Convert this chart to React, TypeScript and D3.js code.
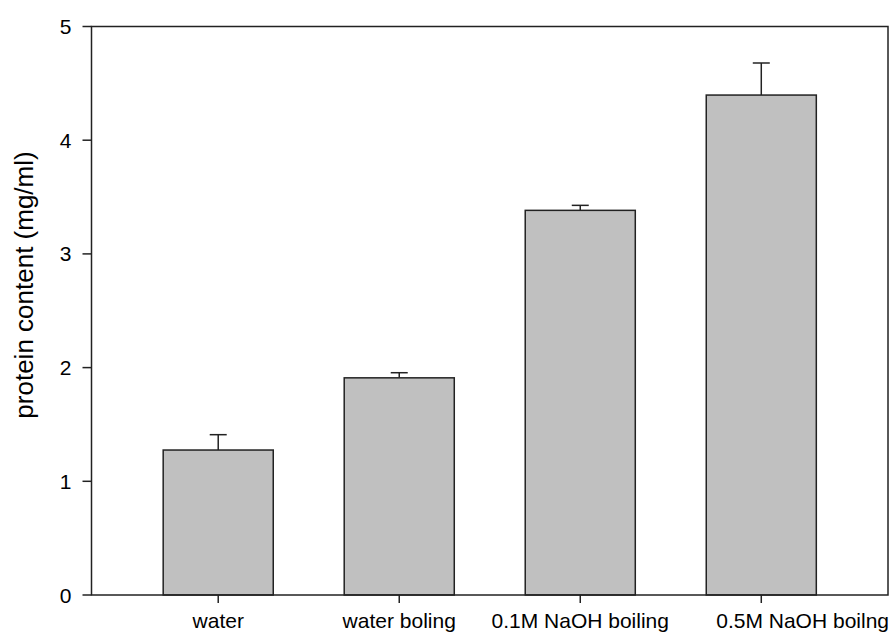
import React from "react";
import * as d3 from "d3";

const categories = ["water", "water boling", "0.1M NaOH boiling", "0.5M NaOH boilng"];
const values = [1.275, 1.91, 3.383, 4.397];
const errors = [0.135, 0.045, 0.044, 0.282];
const yTicks = [0, 1, 2, 3, 4, 5];

const W = 893;
const H = 634;
const margin = { left: 91.5, right: 5, top: 26.5, bottom: 39 };

export default function App() {
  const x = d3
    .scalePoint<string>()
    .domain(categories)
    .range([margin.left, W - margin.right])
    .padding(0.7);
  const y = d3.scaleLinear().domain([0, 5]).range([H - margin.bottom, margin.top]);
  const barW = x.step() * 0.608;
  const capW = 17;
  const font = "Arial, 'Liberation Sans', sans-serif";
  const x0 = margin.left;
  const x1 = W - margin.right;
  const yb = y(0);
  const yt = y(5);

  return (
    <svg
      width={W}
      height={H}
      style={{ position: "absolute", left: 0, top: 0, background: "#fff" }}
    >
      {categories.map((c, i) => {
        const cx = x(c)!;
        const last = i === categories.length - 1;
        return (
          <g key={c}>
            <line
              x1={cx}
              x2={cx}
              y1={y(values[i])}
              y2={y(values[i] + errors[i])}
              stroke="#222"
              strokeWidth={1.5}
            />
            <line
              x1={cx - capW / 2}
              x2={cx + capW / 2}
              y1={y(values[i] + errors[i])}
              y2={y(values[i] + errors[i])}
              stroke="#222"
              strokeWidth={1.5}
            />
            <rect
              x={cx - barW / 2}
              y={y(values[i])}
              width={barW}
              height={yb - y(values[i])}
              fill="#c0c0c0"
              stroke="#222"
              strokeWidth={1.5}
            />
            <line x1={cx} x2={cx} y1={yb} y2={yb + 8} stroke="#222" strokeWidth={1.5} />
            <text
              x={last ? x1 + 1 : cx}
              y={yb + 33}
              textAnchor={last ? "end" : "middle"}
              fontFamily={font}
              fontSize={21}
              fill="#000"
            >
              {c}
            </text>
          </g>
        );
      })}
      <rect
        x={x0}
        y={yt}
        width={x1 - x0}
        height={yb - yt}
        fill="none"
        stroke="#222"
        strokeWidth={1.5}
      />
      {yTicks.map((t) => (
        <g key={t}>
          <line x1={x0 - 9} x2={x0} y1={y(t)} y2={y(t)} stroke="#222" strokeWidth={1.5} />
          <text
            x={x0 - 20}
            y={y(t)}
            dy="0.36em"
            textAnchor="end"
            fontFamily={font}
            fontSize={21}
            fill="#000"
          >
            {t}
          </text>
        </g>
      ))}
      <text
        transform={`translate(33, 285) rotate(-90)`}
        textAnchor="middle"
        fontFamily={font}
        fontSize={26}
        fill="#000"
      >
        protein content (mg/ml)
      </text>
    </svg>
  );
}
